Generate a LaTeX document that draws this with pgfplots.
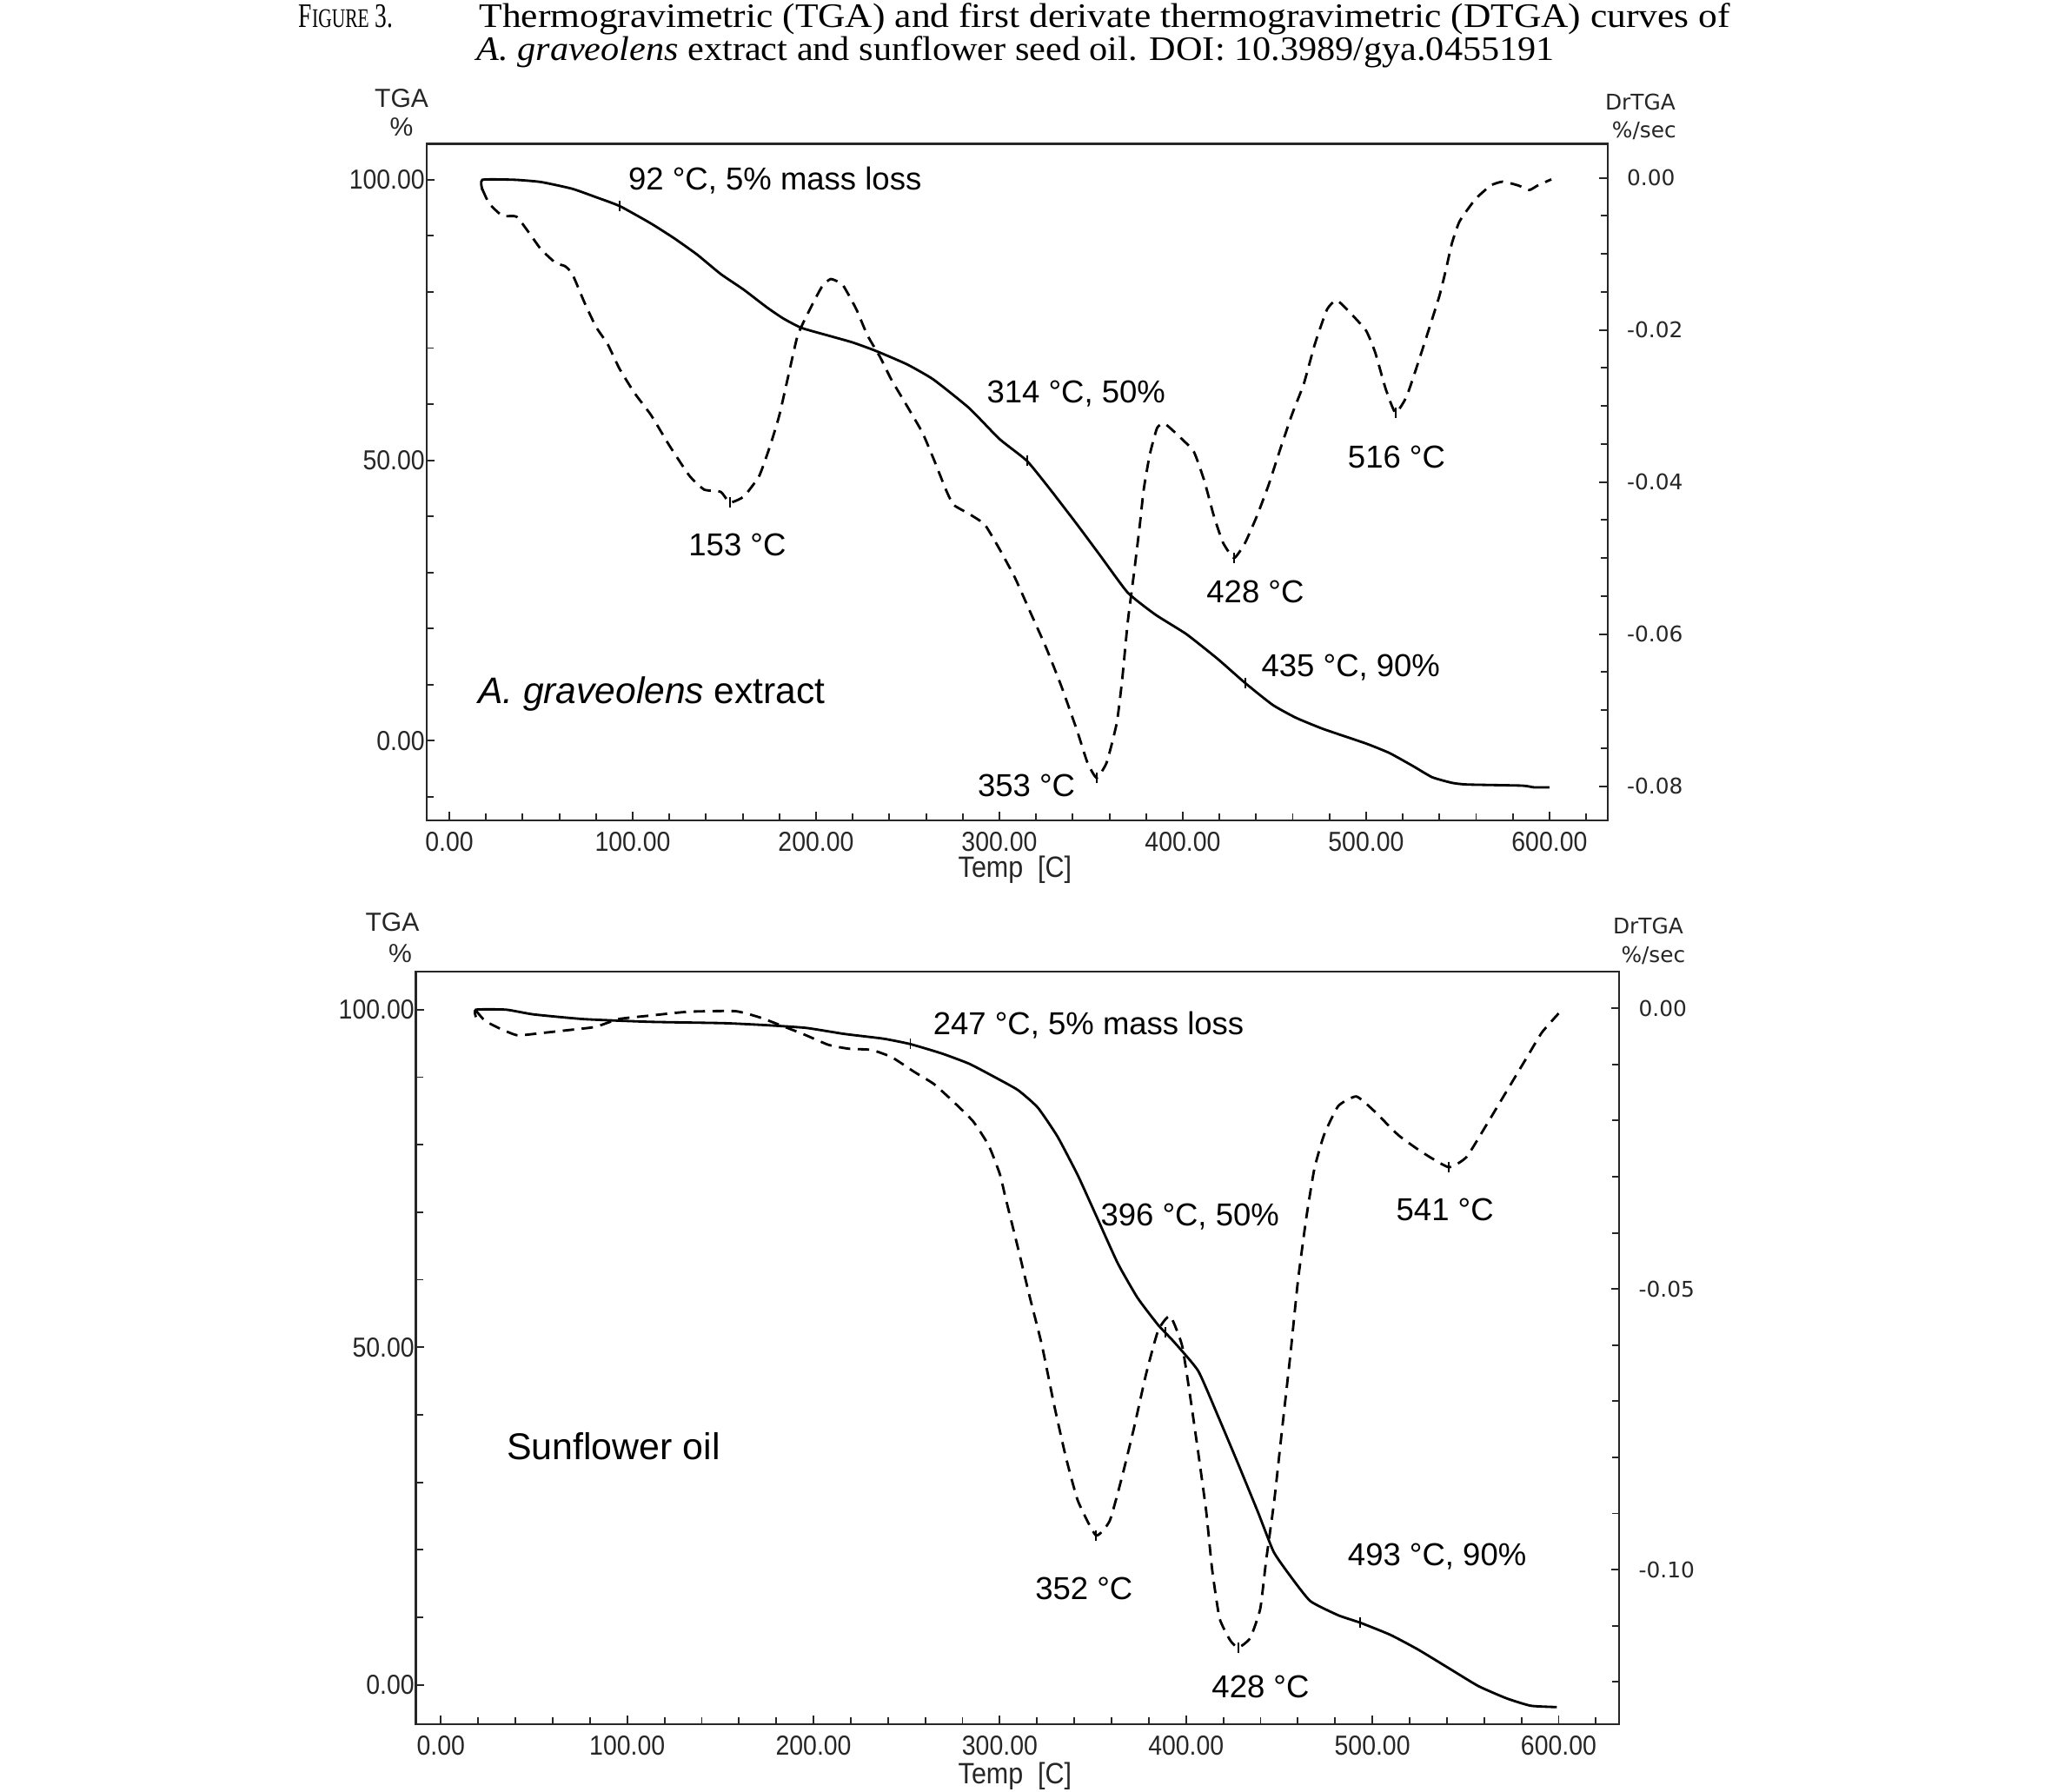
\documentclass[border=0pt]{standalone}
\usepackage{pgfplots}
\pgfplotsset{compat=1.18}
\usepackage{fontspec}
\usepackage{graphicx}
\setmainfont{Liberation Sans}
\newfontfamily\serif{Liberation Serif}
\newfontfamily\dejavu{DejaVu Sans}
\newfontfamily\narrow[FakeStretch=0.9]{Liberation Sans}

\pgfplotsset{
  common/.style={
    scale only axis, anchor=north west,
    axis line style={line width=0.6pt, black!85},
    every tick/.style={line width=0.5pt, black!85},
    major tick length=2.6pt, minor tick length=2.1pt,
    tick align=inside, scaled ticks=false,
  },
  leftlab/.style={
    xticklabel style={font=\narrow\fontsize{8.4}{9}\selectfont, text=black!85},
    yticklabel style={font=\narrow\fontsize{8.4}{9}\selectfont, text=black!85, anchor=east, inner sep=0pt, xshift=-0.3pt},
  },
  rightlab/.style={
    yticklabel style={font=\dejavu\fontsize{6.6}{7}\selectfont, text=black!85, anchor=west, xshift=2.4pt},
  },
  tga/.style={black, line width=0.75pt, smooth, tension=0.3},
  dtga/.style={black, line width=0.75pt, smooth, tension=0.3, dash pattern=on 3.5pt off 2.3pt},
  mk/.style={only marks, mark=|, mark size=1.6pt, mark options={line width=0.5pt, solid}},
}

\begin{document}
\begin{tikzpicture}
\path[use as bounding box] (0,0) rectangle (627.2pt,-548pt);

% ---------------- top plot ----------------
\begin{axis}[common, leftlab,
  at={(130.4pt,-44pt)}, width=361.2pt, height=206.8pt,
  xmin=-12.5, xmax=631.7, ymin=-14.15, ymax=106.4,
  tick pos=left,
  xtick={0,100,200,300,400,500,600},
  xticklabels={0.00,100.00,200.00,300.00,400.00,500.00,600.00},
  minor xtick={0,20,...,620},
  ytick={0,50,100}, yticklabels={0.00,50.00,100.00},
  minor ytick={-10,10,20,30,40,60,70,80,90},
]
\addplot[tga] coordinates {(18,98.2) (18,100) (35.6,100) (50,99.6) (67,98.4) (80,96.9) (93,95.3) (110,92.2) (122.5,89.6) (135,86.7) (148,83.2) (160.6,80.4) (173,77.3) (182,75.3) (192,73.6) (207,72.2) (220,71.0) (232.6,69.5) (249.6,67.1) (264,64.4) (283.5,59.3) (300,53.8) (315,49.9) (327.7,44.8) (342.5,38.5) (355,33.0) (370,26.4) (385,22.5) (402,19.0) (419,14.6) (434,10.3) (449,6.4) (461.7,4.1) (476.6,2.1) (500,-0.5) (512.8,-2.2) (525.5,-4.5) (536,-6.5) (546.8,-7.5) (555,-7.8) (585,-8.0) (591.5,-8.3) (600,-8.3)};
\addplot[mk] coordinates {(93,95.3) (315,49.9) (434,10.3)};
\end{axis}
\begin{axis}[common, rightlab,
  at={(130.4pt,-44pt)}, width=361.2pt, height=206.8pt,
  xmin=-12.5, xmax=631.7, ymin=-0.08447, ymax=0.00447,
  axis x line=none, axis y line*=right, tick align=inside,
  ytick={-0.08,-0.06,-0.04,-0.02,0},
  yticklabels={-0.08,-0.06,-0.04,-0.02,0.00},
  minor ytick={-0.075,-0.07,-0.065,-0.055,-0.05,-0.045,-0.035,-0.03,-0.025,-0.015,-0.01,-0.005},
]
\addplot[dtga] coordinates {(18,-0.0015) (21.8,-0.0034) (29,-0.005) (36.6,-0.0051) (44,-0.0074) (50,-0.0094) (58,-0.0112) (63,-0.0116) (67,-0.0126) (73.7,-0.0164) (80,-0.0196) (86.4,-0.0219) (92.8,-0.0251) (101,-0.0283) (110,-0.0312) (120,-0.0352) (131,-0.0392) (139,-0.041) (148,-0.0413) (153,-0.0427) (160.6,-0.0419) (169,-0.0392) (175,-0.0352) (180,-0.0312) (185,-0.0259) (190,-0.0207) (196.6,-0.0173) (203,-0.0144) (208,-0.0133) (214.6,-0.0141) (222,-0.0173) (228,-0.0207) (235,-0.0236) (241,-0.0265) (249.6,-0.030) (258,-0.0335) (264,-0.0369) (270.8,-0.041) (275,-0.043) (283.5,-0.0442) (292,-0.0456) (300,-0.0488) (308.5,-0.0526) (317,-0.0572) (325.5,-0.0618) (334,-0.067) (342.5,-0.0728) (348,-0.0769) (353,-0.0789) (358.5,-0.0769) (364,-0.0717) (367,-0.0659) (370,-0.0584) (373.4,-0.052) (376.6,-0.0456) (378.7,-0.041) (382,-0.0364) (386,-0.0329) (390,-0.0323) (398,-0.034) (406,-0.036) (411.7,-0.0398) (417,-0.0445) (422,-0.048) (428,-0.050) (434,-0.048) (440.4,-0.0445) (446.8,-0.0404) (453,-0.0358) (459.6,-0.0311) (466,-0.0271) (472,-0.0219) (478.7,-0.0173) (484,-0.0161) (491.5,-0.0178) (500,-0.0201) (505,-0.023) (510.6,-0.0277) (516,-0.0309) (522,-0.0288) (527.7,-0.0248) (534,-0.0201) (540,-0.0155) (543.6,-0.012) (546.8,-0.0086) (551,-0.0057) (559.6,-0.0028) (568,-0.001) (574.5,-0.0005) (583,-0.001) (589,-0.0016) (593.6,-0.001) (601,-0.0002)};
\addplot[mk] coordinates {(153,-0.0427) (353,-0.0789) (428,-0.050) (516,-0.0309)};
\end{axis}

% ---------------- bottom plot ----------------
\begin{axis}[common, leftlab,
  at={(127.2pt,-297.2pt)}, width=368pt, height=230pt,
  xmin=-13.4, xmax=632.6, ymin=-5.8, ymax=105.6,
  tick pos=left,
  xtick={0,100,200,300,400,500,600},
  xticklabels={0.00,100.00,200.00,300.00,400.00,500.00,600.00},
  minor xtick={0,20,...,620},
  ytick={0,50,100}, yticklabels={0.00,50.00,100.00},
  minor ytick={10,20,30,40,60,70,80,90},
]
\addplot[tga] coordinates {(18.8,98.9) (18.8,100) (35,100) (49.7,99.3) (76.8,98.6) (112,98.2) (152,98.0) (175,97.7) (196,97.3) (216.7,96.4) (237.6,95.7) (252,94.9) (269,93.5) (283.5,92.0) (296,90.2) (309.7,88.1) (320.4,85.5) (331,81.2) (342,75.4) (352.7,68.9) (363.4,62.4) (374,57.3) (385,53.3) (393.5,50.8) (406.5,46.5) (417,39.9) (428,32.7) (438.7,25.5) (447,19.7) (456,16.1) (466.7,12.4) (481.7,10.3) (493.5,9.2) (509.7,7.4) (524.7,5.2) (542,2.3) (557,-0.2) (572,-2.0) (585,-3.1) (599,-3.3)};
\addplot[mk] coordinates {(252,94.9) (389,52.2) (493.5,9.2)};
\end{axis}
\begin{axis}[common, rightlab,
  at={(127.2pt,-297.2pt)}, width=368pt, height=230pt,
  xmin=-13.4, xmax=632.6, ymin=-0.1275, ymax=0.0065,
  axis x line=none, axis y line*=right, tick align=inside,
  ytick={-0.10,-0.05,0},
  yticklabels={-0.10,-0.05,0.00},
  minor ytick={-0.12,-0.11,-0.09,-0.08,-0.07,-0.06,-0.04,-0.03,-0.02,-0.01},
]
\addplot[dtga] coordinates {(18.8,-0.0004) (23.6,-0.0022) (31,-0.0035) (41,-0.0048) (54,-0.0044) (70.6,-0.0038) (83,-0.0033) (95.6,-0.0019) (112,-0.0013) (133,-0.0006) (158,-0.0005) (171,-0.0016) (183,-0.0031) (196,-0.0048) (208,-0.0065) (219,-0.0072) (231,-0.0074) (242,-0.0087) (254,-0.0113) (264.7,-0.0135) (275,-0.0166) (285.6,-0.0201) (294,-0.0244) (300,-0.0295) (303.2,-0.0339) (309.7,-0.0426) (316,-0.0513) (322.6,-0.06) (329,-0.0704) (335.5,-0.08) (342,-0.0878) (351.6,-0.0939) (359,-0.0913) (365.6,-0.0835) (372,-0.0748) (378.5,-0.0652) (385,-0.0574) (391.4,-0.0548) (397.8,-0.06) (402,-0.0687) (406.5,-0.0791) (410.8,-0.0896) (414,-0.1) (418,-0.1087) (423.7,-0.1126) (428,-0.1139) (434.4,-0.1122) (439.8,-0.107) (443,-0.0983) (447.3,-0.0878) (451.6,-0.0748) (456,-0.0617) (460,-0.0487) (464.5,-0.0374) (468.8,-0.0287) (474,-0.0226) (481.7,-0.0174) (491.4,-0.0157) (501,-0.0183) (514,-0.0226) (527,-0.0257) (541,-0.0283) (550.5,-0.0265) (561,-0.0209) (572,-0.0148) (583,-0.0087) (591,-0.0043) (600,-0.0009)};
\addplot[mk] coordinates {(351.6,-0.0939) (428,-0.1139) (541,-0.0283)};
\end{axis}

% ---------------- texts ----------------
\begin{scope}[x=0.4pt,y=-0.4pt]
  % title
  \node[anchor=base west, inner sep=0] at (228,21) {\resizebox{28.8pt}{\height}{\serif\fontsize{10.5}{12}\selectfont F{\fontsize{8.2}{9}\selectfont IGURE} 3.}};
  \node[anchor=base west, inner sep=0] at (366,21) {\resizebox{382.4pt}{\height}{\serif\fontsize{10.5}{12}\selectfont Thermogravimetric (TGA) and first derivate thermogravimetric (DTGA) curves of}};
  \node[anchor=base west, inner sep=0] at (364,46) {\resizebox{329.6pt}{\height}{\serif\fontsize{10.5}{12}\selectfont \textit{A. graveolens} extract and sunflower seed oil. DOI: 10.3989/gya.0455191}};

  % axis labels
  \def\axl{\fontsize{8}{9}\selectfont\color{black!85}}
  \def\axr{\dejavu\fontsize{6.6}{7}\selectfont\color{black!85}}
  \node[anchor=base, inner sep=0] at (307,82) {\axl TGA};
  \node[anchor=base, inner sep=0] at (307,104) {\axl \%};
  \node[anchor=base, inner sep=0] at (1254,84) {\axr DrTGA};
  \node[anchor=base, inner sep=0] at (1257,105) {\axr \%/sec};
  \node[anchor=base, inner sep=0] at (776,671) {\narrow\fontsize{9}{10}\selectfont\color{black!85} Temp\ \ [C]};

  \node[anchor=base, inner sep=0] at (300,712) {\axl TGA};
  \node[anchor=base, inner sep=0] at (306,736) {\axl \%};
  \node[anchor=base, inner sep=0] at (1260,714) {\axr DrTGA};
  \node[anchor=base, inner sep=0] at (1264,736) {\axr \%/sec};
  \node[anchor=base, inner sep=0] at (776,1364) {\narrow\fontsize{9}{10}\selectfont\color{black!85} Temp\ \ [C]};

  % annotations top
  \def\an{\fontsize{9.7}{11}\selectfont}
  \node[anchor=base west, inner sep=0] at (480,145) {\an 92 °C, 5\% mass loss};
  \node[anchor=base west, inner sep=0] at (754,308) {\an 314 °C, 50\%};
  \node[anchor=base west, inner sep=0] at (1030,358) {\an 516 °C};
  \node[anchor=base west, inner sep=0] at (526,425) {\an 153 °C};
  \node[anchor=base west, inner sep=0] at (922,461) {\an 428 °C};
  \node[anchor=base west, inner sep=0] at (964,517) {\an 435 °C, 90\%};
  \node[anchor=base west, inner sep=0] at (365,538) {\fontsize{11.3}{13}\selectfont \textit{A. graveolens} extract};
  \node[anchor=base west, inner sep=0] at (747,609) {\an 353 °C};

  % annotations bottom
  \node[anchor=base west, inner sep=0] at (713,791) {\an 247 °C, 5\% mass loss};
  \node[anchor=base west, inner sep=0] at (841,937) {\an 396 °C, 50\%};
  \node[anchor=base west, inner sep=0] at (1067,933) {\an 541 °C};
  \node[anchor=base west, inner sep=0] at (387,1116) {\fontsize{11.4}{13}\selectfont Sunflower oil};
  \node[anchor=base west, inner sep=0] at (1030,1197) {\an 493 °C, 90\%};
  \node[anchor=base west, inner sep=0] at (791,1223) {\an 352 °C};
  \node[anchor=base west, inner sep=0] at (926,1298) {\an 428 °C};
\end{scope}
\end{tikzpicture}
\end{document}
